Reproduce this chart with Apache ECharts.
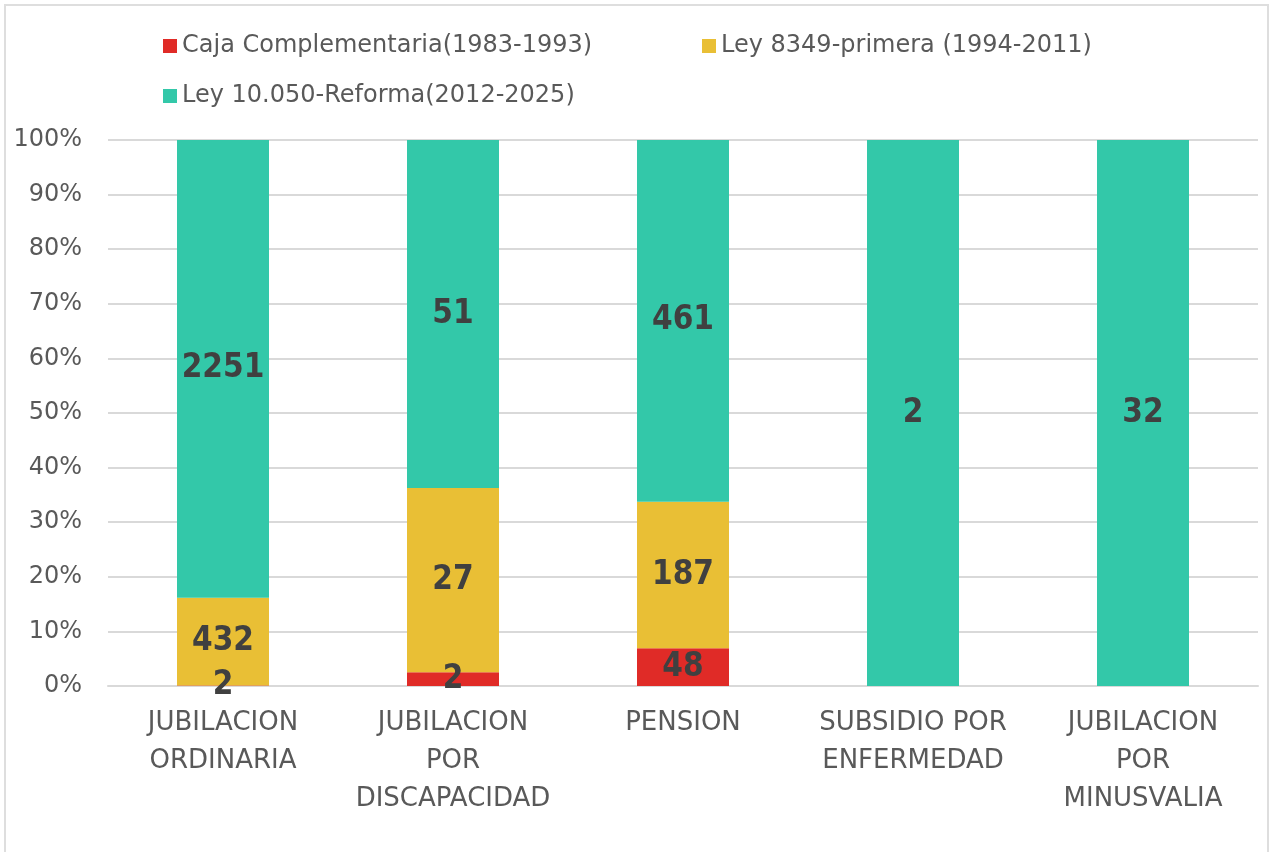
<!DOCTYPE html>
<html>
<head>
<meta charset="utf-8">
<script src="https://cdn.jsdelivr.net/npm/echarts@6/dist/echarts.min.js"></script>
<style>
  html, body { margin: 0; padding: 0; background: #fff; }
  #frame { position: absolute; left: 4px; top: 4px; width: 1265px; height: 860px; border: 2px solid #dedede; box-sizing: border-box; }
  #main { width: 1273px; height: 852px; position: absolute; left: 0; top: 0; }
</style>
</head>
<body>
<div id="frame"></div>
<div id="main"></div>
<script>
// categorias
const categories = [
  'JUBILACION\nORDINARIA',
  'JUBILACION\nPOR\nDISCAPACIDAD',
  'PENSION',
  'SUBSIDIO POR\nENFERMEDAD',
  'JUBILACION\nPOR\nMINUSVALIA'
]
const seriesNames = [
  'Caja Complementaria(1983-1993)',
  'Ley 8349-primera (1994-2011)',
  'Ley 10.050-Reforma(2012-2025)'
]
// valores absolutos
const caja = [2, 2, 48, 0, 0]
const ley8349 = [432, 27, 187, 0, 0]
const ley10050 = [2251, 51, 461, 2, 32]
const yTicks = ['0%', '10%', '20%', '30%', '40%', '50%', '60%', '70%', '80%', '90%', '100%']
const colors = ['#E02B27', '#E9BF35', '#33C8A9']

const totals = categories.map((c, i) => caja[i] + ley8349[i] + ley10050[i])
const toPct = (arr) => arr.map((v, i) => ({ value: (v / totals[i]) * 100, raw: v }))

const font = 'DejaVu Sans'
const textColor = '#595959'

const mkSeries = (name, arr, color) => ({
  name: name,
  type: 'bar',
  stack: 'total',
  barWidth: 92,
  data: toPct(arr),
  itemStyle: { color: color },
  label: {
    show: true,
    position: 'inside',
    fontFamily: 'DejaVu Sans Condensed, DejaVu Sans',
    fontWeight: 'bold',
    fontSize: 33,
    color: '#404040',
    formatter: (p) => (p.data.raw ? String(p.data.raw) : '')
  }
})

const legendItem = (name, left, top) => ({
  data: [name],
  left: left,
  top: top,
  itemWidth: 14,
  itemHeight: 14,
  itemGap: 6,
  icon: 'rect',
  textStyle: { fontFamily: font, fontSize: 24, color: textColor }
})

var myChart = echarts.init(document.getElementById('main'))
const option = {
  animation: false,
  color: colors,
  legend: [
    legendItem(seriesNames[0], 158, 29),
    legendItem(seriesNames[1], 697, 29),
    legendItem(seriesNames[2], 158, 79)
  ],
  grid: {
    left: 108,
    right: 15,
    top: 140,
    bottom: 166
  },
  xAxis: {
    type: 'category',
    data: categories,
    axisLine: { lineStyle: { color: '#d9d9d9', width: 2 } },
    axisTick: { show: false },
    axisLabel: {
      fontFamily: font,
      fontSize: 26,
      color: textColor,
      lineHeight: 38,
      margin: 18,
      interval: 0
    }
  },
  yAxis: {
    type: 'value',
    min: 0,
    max: 100,
    interval: 10,
    axisLine: { show: false },
    axisTick: { show: false },
    splitLine: { lineStyle: { color: '#d9d9d9', width: 2 } },
    axisLabel: {
      fontFamily: font,
      fontSize: 24,
      color: textColor,
      margin: 26,
      formatter: (v) => yTicks[Math.round(v / 10)]
    }
  },
  series: [
    mkSeries(seriesNames[0], caja, colors[0]),
    mkSeries(seriesNames[1], ley8349, colors[1]),
    mkSeries(seriesNames[2], ley10050, colors[2])
  ]
}

myChart.setOption(option)
</script>
</body>
</html>
